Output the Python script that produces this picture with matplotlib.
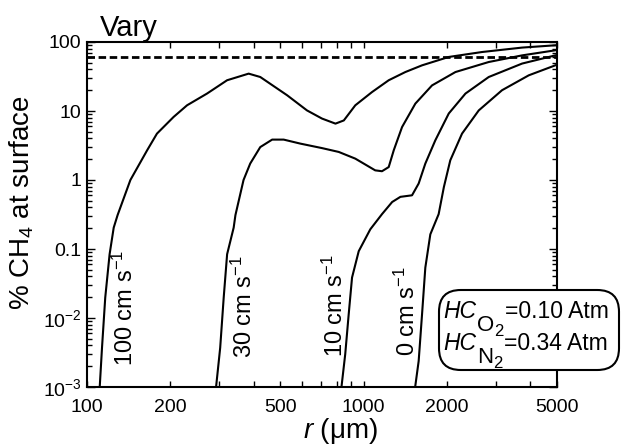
import matplotlib
matplotlib.use('Agg')
from matplotlib import pyplot as plt
from matplotlib.patches import FancyBboxPatch
from matplotlib.ticker import FixedLocator, FixedFormatter, LogLocator, NullFormatter

plt.rcParams['font.family'] = ['Liberation Sans', 'DejaVu Sans']
plt.rcParams['mathtext.fontset'] = 'custom'
plt.rcParams['mathtext.rm'] = 'Liberation Sans'
plt.rcParams['mathtext.it'] = 'Liberation Sans:italic'

W, H = 621, 447

# curves: radius (um) and % CH4 at surface
r_100 = [111, 113.3, 116.4, 120.7, 124.9, 129, 143.5, 165, 179, 205.6, 230, 271.6, 320.9, 384,
         423, 529, 624, 707, 791, 848, 933, 1072, 1232, 1415, 1626, 2031, 2680, 3740, 4930]
ch4_100 = [0.0009, 0.0037, 0.0198, 0.084, 0.204, 0.31, 1.0, 2.7, 4.7, 8.2, 12.1, 17.9, 27.9, 34.8,
           31.1, 16.9, 10.2, 7.77, 6.56, 7.3, 12.1, 18.8, 27.9, 36.7, 45.9, 60.7, 71.6, 83, 89.6]

r_30 = [292, 303, 312, 321, 339, 344, 368, 389, 423, 467, 514, 590, 707, 813, 933, 1101, 1165,
        1232, 1285, 1377, 1538, 1767, 2147, 2833, 3740, 4930]
ch4_30 = [0.0009, 0.0037, 0.0198, 0.084, 0.204, 0.31, 1.0, 1.73, 3.0, 3.85, 3.85, 3.37, 2.9, 2.55,
          2.04, 1.38, 1.34, 1.54, 2.7, 5.86, 12.8, 23.5, 36.7, 51.3, 64, 75.8]

r_10 = [829, 858, 883, 908, 960, 1057, 1165, 1268, 1358, 1496, 1581, 1671, 1816, 2031, 2334,
        2833, 3740, 4930]
ch4_10 = [0.0009, 0.003, 0.0113, 0.0386, 0.093, 0.193, 0.32, 0.48, 0.57, 0.6, 0.89, 1.73, 3.76,
          9.2, 17.9, 31.1, 48.7, 64]

r_0 = [1530, 1581, 1626, 1671, 1742, 1867, 1950, 2057, 2268, 2607, 3164, 3953, 4930]
ch4_0 = [0.0009, 0.00238, 0.0113, 0.0537, 0.163, 0.32, 0.79, 1.93, 4.7, 10.2, 20, 32.9, 45.9]

threshold = 60

curve_labels = ['100 cm s$^{-1}$', '30 cm s$^{-1}$', '10 cm s$^{-1}$', '0 cm s$^{-1}$']
label_r = [137, 371, 793, 1440]
label_ch4 = [0.0138, 0.0149, 0.015, 0.0127]

x_ticks = [100, 200, 500, 1000, 2000, 5000]
x_minor = [300, 400, 600, 700, 800, 900, 3000, 4000]
y_ticks = [1e-3, 1e-2, 0.1, 1, 10, 100]
y_tick_labels = ['10$^{-3}$', '10$^{-2}$', '0.1', '1', '10', '100']

gases = ['O', 'N']
hc_values = ['0.10', '0.34']

fig = plt.figure(figsize=(W / 100, H / 100), dpi=100)
ax = fig.add_axes([87 / W, 60 / H, 470 / W, 345 / H])

for r, v in [(r_100, ch4_100), (r_30, ch4_30), (r_10, ch4_10), (r_0, ch4_0)]:
    ax.plot(r, v, color='black', lw=1.5, solid_joinstyle='round')
ax.axhline(threshold, color='black', lw=2, dashes=(2.7, 1.3))

for txt, x, y in zip(curve_labels, label_r, label_ch4):
    ax.text(x, y, txt, rotation=90, ha='center', va='center', fontsize=17)

ax.set_xscale('log')
ax.set_yscale('log')
ax.set_xlim(100, 5000)
ax.set_ylim(1e-3, 100)
ax.xaxis.set_major_locator(FixedLocator(x_ticks))
ax.xaxis.set_major_formatter(FixedFormatter([str(t) for t in x_ticks]))
ax.xaxis.set_minor_locator(FixedLocator(x_minor))
ax.xaxis.set_minor_formatter(NullFormatter())
ax.yaxis.set_major_locator(FixedLocator(y_ticks))
ax.yaxis.set_major_formatter(FixedFormatter(y_tick_labels))
ax.yaxis.set_minor_locator(LogLocator(base=10, subs=range(2, 10)))
ax.yaxis.set_minor_formatter(NullFormatter())
ax.tick_params(which='both', direction='in', top=True, right=True, labelsize=14, width=1)
ax.tick_params(which='major', length=6)
ax.tick_params(which='minor', length=3.5)
ax.tick_params(axis='x', which='both', length=4.5, pad=9)
ax.tick_params(axis='y', pad=4)
for s in ax.spines.values():
    s.set_linewidth(1.5)

fig.text(100 / W, 1 - 36 / H, 'Vary', fontsize=21, ha='left', va='baseline')
fig.text(22 / W, 1 - 203 / H, '% CH$_4$ at surface', fontsize=20, rotation=90,
         ha='center', va='center')
fig.text(340 / W, 1 - 431 / H, '$r$ (μm)', fontsize=20, ha='center', va='center')

# box with HC values, pieces placed one after another (big subscripts)
box = FancyBboxPatch((439 / W, 1 - 370 / H), 180 / W, 80 / H, transform=fig.transFigure,
                     boxstyle='round,pad=0,rounding_size=0.035', fc='white', ec='black',
                     lw=1.5, mutation_aspect=W / H, zorder=5)
fig.add_artist(box)
fig.canvas.draw()
renderer = fig.canvas.get_renderer()


def put(x_px, base_px, s, size, style='normal'):
    t = fig.text(x_px / W, 1 - base_px / H, s, fontsize=size, style=style,
                 ha='left', va='baseline', zorder=6)
    return x_px + t.get_window_extent(renderer).width


for gas, val, base in zip(gases, hc_values, [318, 350]):
    x = put(443, base, 'HC', 16.5, 'italic')
    x = put(x + 1, base + 13, gas, 16)
    x = put(x, base + 18, '2', 12)
    put(x + 1, base, '=%s Atm' % val, 16.5)

fig.savefig('out.png', dpi=100)
